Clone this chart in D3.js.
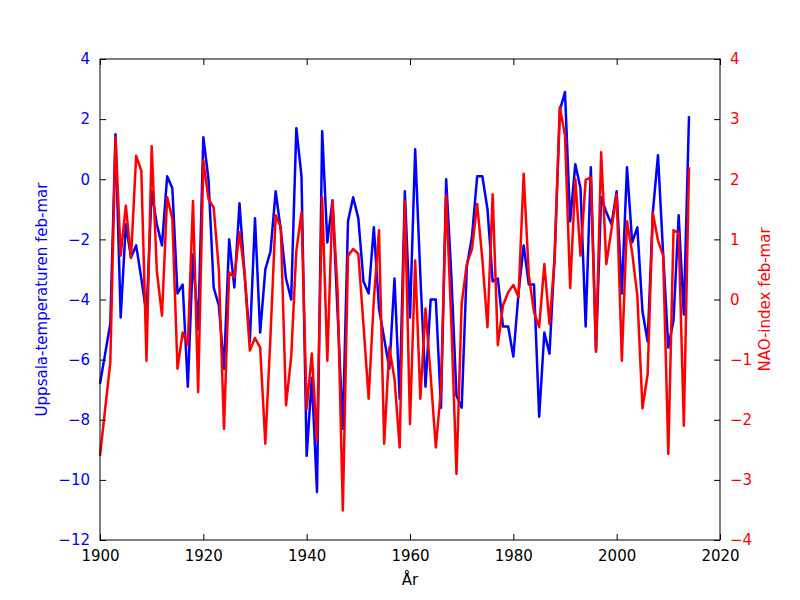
<!DOCTYPE html>
<html><head><meta charset="utf-8">
<script src="https://cdn.jsdelivr.net/npm/d3@7"></script>
<style>body{margin:0;background:#fff}svg{font-family:"DejaVu Sans",sans-serif}</style>
</head><body>
<script>
const startYear = 1900;
const temp = [-6.8,-5.8,-4.8,1.5,-4.6,-1.5,-2.6,-2.2,-3.3,-4.5,
-0.4,-1.5,-2.2,0.1,-0.3,-3.8,-3.5,-6.9,-2.5,-5.0,
1.4,0.0,-3.6,-4.2,-6.3,-2.0,-3.6,-0.8,-3.2,-5.4,
-1.3,-5.1,-3.0,-2.4,-0.4,-1.7,-3.3,-4.0,1.7,0.1,
-9.2,-6.6,-10.4,1.6,-2.1,-0.7,-4.5,-8.3,-1.4,-0.6,
-1.3,-3.4,-3.8,-1.6,-4.3,-5.3,-6.3,-3.3,-7.3,-0.4,
-4.6,1.0,-3.2,-6.9,-4.0,-4.0,-7.6,0.0,-3.2,-7.2,
-7.6,-2.9,-1.9,0.1,0.1,-1.0,-3.4,-3.3,-4.9,-4.9,
-5.9,-3.8,-2.2,-3.5,-3.5,-7.9,-5.1,-5.8,-2.5,2.3,
2.9,-1.4,0.5,-0.3,-4.9,0.4,-5.7,-0.6,-1.1,-1.5,
-0.4,-3.8,0.4,-2.1,-1.6,-4.4,-5.4,-1.1,0.8,-2.5,
-5.6,-4.7,-1.2,-4.5,2.1];
const nao = [-2.6,-1.82,-1.04,2.7,0.73,1.56,0.69,2.39,2.14,-1.02,
2.55,0.48,-0.27,1.7,1.35,-1.15,-0.55,-0.76,1.64,-1.54,
2.31,1.67,1.53,0.5,-2.15,0.45,0.37,1.12,0.42,-0.85,
-0.64,-0.8,-2.4,-0.6,1.4,1.2,-1.76,-0.96,0.81,1.45,
-1.82,-0.9,-2.35,1.7,-1.02,1.64,0.12,-3.51,0.73,0.84,
0.76,-0.43,-1.65,0.0,1.15,-2.4,-0.8,-1.32,-2.46,1.64,
-2.07,0.65,-1.65,-0.15,-1.27,-2.46,-1.49,1.73,-0.38,-2.9,
-0.07,0.59,0.84,1.59,0.67,-0.46,1.75,-0.76,-0.1,0.12,
0.24,0.04,2.09,0.4,-0.21,-0.46,0.59,-0.41,0.67,3.2,
2.73,0.19,2.0,0.73,1.99,2.03,-0.87,2.45,0.59,1.17,
1.75,-1.02,1.3,0.78,0.06,-1.81,-1.24,1.44,0.98,0.73,
-2.57,1.15,1.11,-2.1,2.2];
const xTicks = [1900,1920,1940,1960,1980,2000,2020];
const leftTicks = [4,2,0,-2,-4,-6,-8,-10,-12];
const rightTicks = [4,3,2,1,0,-1,-2,-3,-4];

const W=800,H=600,L=100,R=720,T=59,B=540;
const svg=d3.select("body").append("svg").attr("width",W).attr("height",H);
const x=d3.scaleLinear().domain([1900,2020]).range([L,R]);
const yl=d3.scaleLinear().domain([-12,4]).range([B,T]);
const yr=d3.scaleLinear().domain([-4,4]).range([B,T]);
const fmt=d=>d<0?"\u2212"+Math.abs(d):String(d);

const tl=d3.line().x((d,i)=>x(startYear+i)).y(d=>yl(d));
const nl=d3.line().x((d,i)=>x(startYear+i)).y(d=>yr(d));
const g=svg.append("g");
g.append("path").attr("d",tl(temp)).attr("fill","none").attr("stroke","#0000ff").attr("stroke-width",2.5).attr("stroke-linejoin","round");
g.append("path").attr("d",nl(nao)).attr("fill","none").attr("stroke","#ff0000").attr("stroke-width",2.5).attr("stroke-linejoin","round");

// axes (inward ticks)
const xb=d3.axisBottom(x).tickValues(xTicks).tickSize(-6).tickPadding(10).tickFormat(d3.format("d"));
const xt=d3.axisTop(x).tickValues(xTicks).tickSize(-6).tickFormat("");
const ya=d3.axisLeft(yl).tickValues(leftTicks).tickSize(-6).tickPadding(10).tickFormat(fmt);
const yb=d3.axisRight(yr).tickValues(rightTicks).tickSize(-6).tickPadding(10).tickFormat(fmt);
function style(sel,col){sel.select(".domain").remove();sel.selectAll("text").attr("font-size",15).attr("fill",col).attr("font-family","DejaVu Sans");sel.selectAll("line").attr("stroke","#000");}
style(svg.append("g").attr("transform",`translate(0,${B})`).call(xb),"#000");
style(svg.append("g").attr("transform",`translate(0,${T})`).call(xt),"#000");
style(svg.append("g").attr("transform",`translate(${L},0)`).call(ya),"#0000ff");
style(svg.append("g").attr("transform",`translate(${R},0)`).call(yb),"#ff0000");
svg.append("rect").attr("x",L).attr("y",T).attr("width",R-L).attr("height",B-T).attr("fill","none").attr("stroke","#000").attr("stroke-width",1);

svg.append("text").attr("x",(L+R)/2).attr("y",585).attr("text-anchor","middle").attr("font-size",15).text("År");
svg.append("text").attr("transform",`translate(47,${(T+B)/2}) rotate(-90)`).attr("text-anchor","middle").attr("font-size",15).attr("fill","#0000ff").text("Uppsala-temperaturen feb-mar");
svg.append("text").attr("transform",`translate(770,${(T+B)/2}) rotate(-90)`).attr("text-anchor","middle").attr("font-size",15).attr("fill","#ff0000").text("NAO-index feb-mar");
</script>
</body></html>
